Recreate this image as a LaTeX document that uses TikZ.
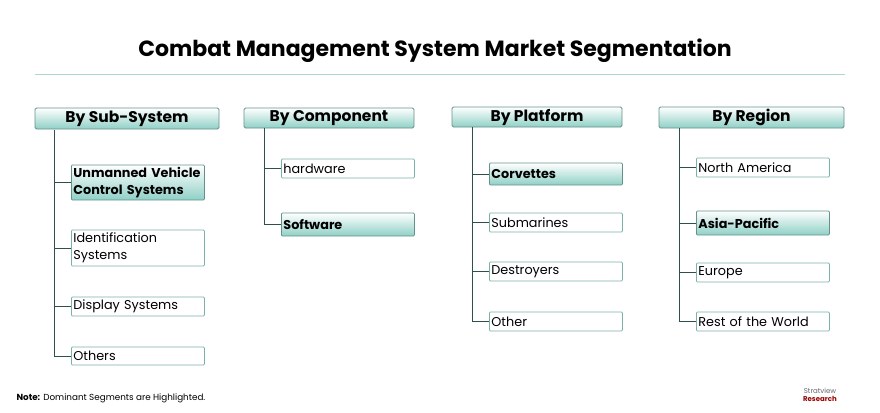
\documentclass[tikz,border=0pt]{standalone}
\usepackage{fontspec}
\setmainfont{Poppins}
\definecolor{teal1}{HTML}{8FD0C6}
\definecolor{tealline}{HTML}{A9D9D1}
\definecolor{linec}{HTML}{2F4F4F}
\begin{document}
\begin{tikzpicture}
	[x=1pt,y=-1pt,
	head/.style={rectangle,draw=teal1!70!black,line width=0.8pt,top color=white,bottom color=teal1,rounded corners=1.5pt,font=\bfseries\fontsize{15.5}{17}\selectfont,inner sep=0pt},
	leaf/.style={rectangle,draw=teal1!85!black,line width=0.8pt,fill=white,rounded corners=1pt,font=\fontsize{12.8}{16.5}\selectfont,align=left,anchor=west,inner xsep=2pt,inner ysep=0pt,minimum width=133pt,text width=129pt},
	dom/.style={leaf,top color=white,bottom color=teal1,draw=teal1!70!black,font=\bfseries\fontsize{12.8}{16.5}\selectfont},
	stem/.style={draw=linec,line width=1pt}
	]
	\useasboundingbox (0,0) rectangle (880,412);
	\node[font=\bfseries\fontsize{22}{24}\selectfont] (title) at (435,51) {Combat Management System Market Segmentation};
	\draw[tealline,line width=1pt] (35,74) -- (845,74);
	% headers
	\node[head,minimum width=184pt,minimum height=21pt] (hsub) at (127,118.5) {By Sub-System};
	\node[head,minimum width=170pt,minimum height=20pt] (hcom) at (329,118) {By Component};
	\node[head,minimum width=170pt,minimum height=20pt] (hpla) at (537,117) {By Platform};
	\node[head,minimum width=185pt,minimum height=21pt] (hreg) at (751.5,117.5) {By Region};
	% sub-system
	\node[dom,minimum height=35pt] (s1) at (71,182.5) {Unmanned Vehicle\\Control Systems};
	\node[leaf,minimum height=36pt] (s2) at (71,248) {Identification\\Systems};
	\node[leaf,minimum height=19pt] (s3) at (71,306.5) {Display Systems};
	\node[leaf,minimum height=18pt] (s4) at (71,356) {Others};
	% component
	\node[leaf,minimum height=19pt] (c1) at (281,168.5) {hardware};
	\node[dom,minimum height=23pt] (c2) at (281,224.5) {Software};
	% platform
	\node[dom,minimum height=22pt] (p1) at (489,174) {Corvettes};
	\node[leaf,minimum height=19pt] (p2) at (489,222.5) {Submarines};
	\node[leaf,minimum height=19pt] (p3) at (489,271.5) {Destroyers};
	\node[leaf,minimum height=19pt] (p4) at (489,321.5) {Other};
	% region
	\node[leaf,minimum height=19pt] (r1) at (696,167.5) {North America};
	\node[dom,minimum height=24pt] (r2) at (696,223) {Asia-Pacific};
	\node[leaf,minimum height=19pt] (r3) at (696,272.5) {Europe};
	\node[leaf,minimum height=19pt] (r4) at (696,321.5) {Rest of the World};
	% stems
	\coordinate (vs) at (54,129.5);
	\coordinate (vc) at (264,128);
	\coordinate (vp) at (472,127);
	\coordinate (vr) at (679,128);
	\draw[stem] (vs) -- (vs |- s4.west) -- (s4.west);
	\foreach \n in {s1,s2,s3} \draw[stem] (vs |- \n.west) -- (\n.west);
	\draw[stem] (vc) -- (vc |- c2.west) -- (c2.west);
	\draw[stem] (vc |- c1.west) -- (c1.west);
	\draw[stem] (vp) -- (vp |- p4.west) -- (p4.west);
	\foreach \n in {p1,p2,p3} \draw[stem] (vp |- \n.west) -- (\n.west);
	\draw[stem] (vr) -- (vr |- r4.west) -- (r4.west);
	\foreach \n in {r1,r2,r3} \draw[stem] (vr |- \n.west) -- (\n.west);
	% note and logo
	\node[anchor=west,font=\fontsize{8.8}{10}\selectfont] (note) at (13,398) {\textbf{Note:} Dominant Segments are Highlighted.};
	\node[align=center,font=\fontsize{7}{7}\selectfont,inner sep=0pt] (logo) at (820,395) {\textcolor{gray!80!black}{Stratview}\\[1pt]\textcolor{red!60!black}{\bfseries Research}};
\end{tikzpicture}
\end{document}
